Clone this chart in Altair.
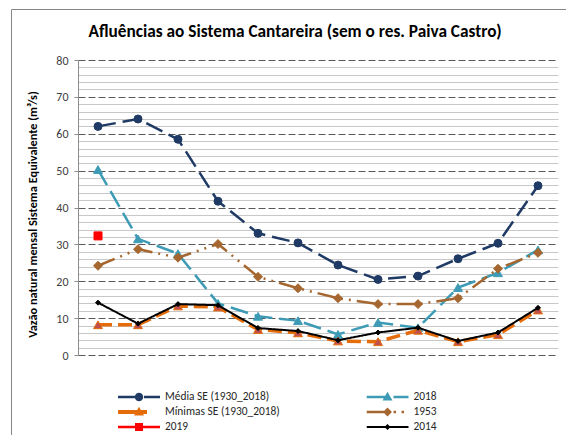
import math
import altair as alt
import pandas as pd

FONT = "Carlito, Lato, sans-serif"

months = ["Jan", "Fev", "Mar", "Abr", "Mai", "Jun", "Jul", "Ago", "Set", "Out", "Nov", "Dez"]

series_names = ["Média SE (1930_2018)", "2018", "Mínimas SE (1930_2018)", "1953", "2019", "2014"]

media = [62.0, 64.0, 58.5, 41.7, 33.0, 30.4, 24.4, 20.5, 21.4, 26.1, 30.3, 45.9]
v2018 = [50.3, 31.5, 27.5, 14.0, 10.5, 9.3, 5.6, 8.8, 7.4, 18.3, 22.3, 28.5]
minimas = [8.2, 8.2, 13.3, 13.0, 6.9, 6.0, 3.8, 3.6, 6.7, 3.6, 5.5, 12.2]
v1953 = [24.2, 28.7, 26.4, 30.1, 21.2, 18.1, 15.4, 13.8, 13.8, 15.4, 23.4, 27.7]
v2019 = [32.3]
v2014 = [14.2, 8.5, 13.8, 13.5, 7.3, 6.5, 4.0, 6.1, 7.4, 3.8, 6.1, 12.8]

line_colors = ["#1F3A64", "#3E9BB5", "#E46C0A", "#A5672F", "#FF0000", "#000000"]
fill_colors = ["#1F3A64", "#3E9BB5", "#C0504D", "#A5672F", "#FF0000", "#000000"]
dashes = [[18, 7], [18, 7], [14, 6], [18, 6, 2, 6, 2, 6], [1, 0], [1, 0]]
widths = [2.5, 2.5, 3.5, 2.5, 2.5, 2]
shapes = ["circle", "triangle-up", "triangle-up", "diamond", "square", "diamond"]
sizes = [64, 80, 80, 81, 64, 25]

values_by_series = [media, v2018, minimas, v1953, v2019, v2014]
rows = []
for name, vals in zip(series_names, values_by_series):
    for m, v in zip(months, vals):
        rows.append({"series": name, "month": m, "value": v})
df = pd.DataFrame(rows)

# ---- custom legend symbols (line + marker), in units of 21 px ----
U = 21.0


def poly(pts):
    return "M" + "L".join(f"{x / U:.3f},{y / U:.3f}" for x, y in pts) + "Z"


def rect(x0, x1, t):
    return poly([(x0, -t / 2), (x1, -t / 2), (x1, t / 2), (x0, t / 2)])


def circ(r):
    n = 20
    return poly([(r * math.cos(2 * math.pi * i / n), r * math.sin(2 * math.pi * i / n)) for i in range(n)])


def tri(s):
    h = s * math.sqrt(3) / 2
    return poly([(0, -h * 0.6), (s / 2, h * 0.4), (-s / 2, h * 0.4)])


def diamond(r):
    return poly([(0, -r), (r, 0), (0, r), (-r, 0)])


def square(a):
    return poly([(-a, -a), (a, -a), (a, a), (-a, a)])


legend_paths = [
    rect(-21, -1, 2.5) + circ(4.2) + rect(5, 21, 2.5),
    rect(-21, -1, 2.5) + tri(10) + rect(6, 21, 2.5),
    rect(-21, 8, 4) + tri(10),
    rect(-21, 0, 2.5) + diamond(4.5) + rect(6, 8.5, 2.5) + rect(14, 16.5, 2.5),
    rect(-21, 21, 2.5) + square(4),
    rect(-21, 21, 2) + diamond(3),
]


def make_legend():
    return alt.Legend(
        title=None,
        orient="none",
        direction="horizontal",
        legendX=40,
        legendY=329.5,
        columns=2,
        columnPadding=86.5,
        rowPadding=0,
        symbolSize=1764,
        clipHeight=15,
        labelOffset=5,
        symbolStrokeWidth=0,
        symbolOpacity=1,
        labelFontSize=11.4,
        labelFont=FONT,
        labelColor="#262626",
        padding=0,
    )


x_axis = alt.Axis(
    tickBand="extent",
    labelAngle=0,
    tickSize=5,
    labelPadding=4,
    labelFontSize=11,
    labelFont=FONT,
    labelColor="#404040",
    domainColor="#8C8C8C",
    tickColor="#8C8C8C",
    grid=False,
)
x_scale = alt.Scale(type="band", paddingInner=0, paddingOuter=0)
y_scale = alt.Scale(domain=[0, 80], nice=False)

minor_axis = alt.Axis(
    orient="left",
    values=[v for v in range(0, 81, 2) if v % 10],
    grid=True,
    gridColor="#C8C8C8",
    gridWidth=1,
    labels=False,
    ticks=False,
    domain=False,
    title=None,
)
major_axis = alt.Axis(
    orient="left",
    values=list(range(0, 81, 10)),
    grid=True,
    gridColor="#595959",
    gridDash=[7, 3],
    gridWidth=1,
    tickSize=4,
    tickColor="#8C8C8C",
    domainColor="#8C8C8C",
    labelPadding=6,
    labelFontSize=12,
    labelFont=FONT,
    labelColor="#404040",
    title="Vazão natural  mensal Sistema Equivalente (m³/s)",
    titleFont=FONT,
    titleFontSize=12.3,
    titleFontWeight="bold",
    titleColor="#000000",
    titleX=-46,
    titleY=154,
    titleAngle=-90,
    titleAlign="center",
    titleBaseline="middle",
)

base = alt.Chart(df)


def xe(axis=None):
    return alt.X("month:O", sort=months, scale=x_scale, title=None, axis=axis)


def ye(axis=None):
    return alt.Y("value:Q", scale=y_scale, axis=axis)


layers = []
for i, name in enumerate(series_names):
    sub = base.transform_filter(alt.FieldEqualPredicate(field="series", equal=name))
    line = sub.mark_line(
        color=line_colors[i], strokeDash=dashes[i], strokeWidth=widths[i]
    ).encode(
        x=xe(x_axis if i == 0 else None),
        y=ye(minor_axis if i == 0 else None),
    )
    point = sub.mark_point(
        shape=shapes[i], size=sizes[i], filled=True, opacity=1,
        fill=fill_colors[i], stroke=line_colors[i], strokeWidth=1,
    ).encode(
        x=xe(),
        y=ye(major_axis if i == 0 else None),
    )
    layers += [line, point]

# legend-only layer (no rows), carrying the combined line+marker legend symbols
legend_layer = base.transform_filter("false").mark_point(filled=True, opacity=1).encode(
    color=alt.Color("series:N", scale=alt.Scale(domain=series_names, range=line_colors), legend=make_legend()),
    shape=alt.Shape("series:N", scale=alt.Scale(domain=series_names, range=legend_paths), legend=make_legend()),
)

frame_df = pd.DataFrame({"k": [0]})
top_border = alt.Chart(frame_df).mark_rule(color="#868686", strokeWidth=1).encode(
    x=alt.value(-66.5), x2=alt.value(500), y=alt.value(-50.5)
)
left_border = alt.Chart(frame_df).mark_rule(color="#868686", strokeWidth=1).encode(
    x=alt.value(-66.5), y=alt.value(-50.5), y2=alt.value(390)
)

chart = (
    alt.layer(*layers, legend_layer, top_border, left_border)
    .resolve_axis(y="independent")
    .properties(
        width=480,
        height=295,
        padding={"left": 70, "top": 52, "right": 8, "bottom": 80},
        autosize=alt.AutoSizeParams(type="none"),
        background="white",
        title=alt.TitleParams(
            "Afluências ao Sistema Cantareira (sem o res. Paiva Castro)",
            font=FONT,
            fontSize=17.3,
            fontWeight="bold",
            color="#000000",
            anchor="middle",
            baseline="alphabetic",
            dx=-23,
            offset=-45,
        ),
    )
    .configure_view(stroke=None)
)

chart.save("out.html", embed_options={"renderer": "svg", "actions": False})
